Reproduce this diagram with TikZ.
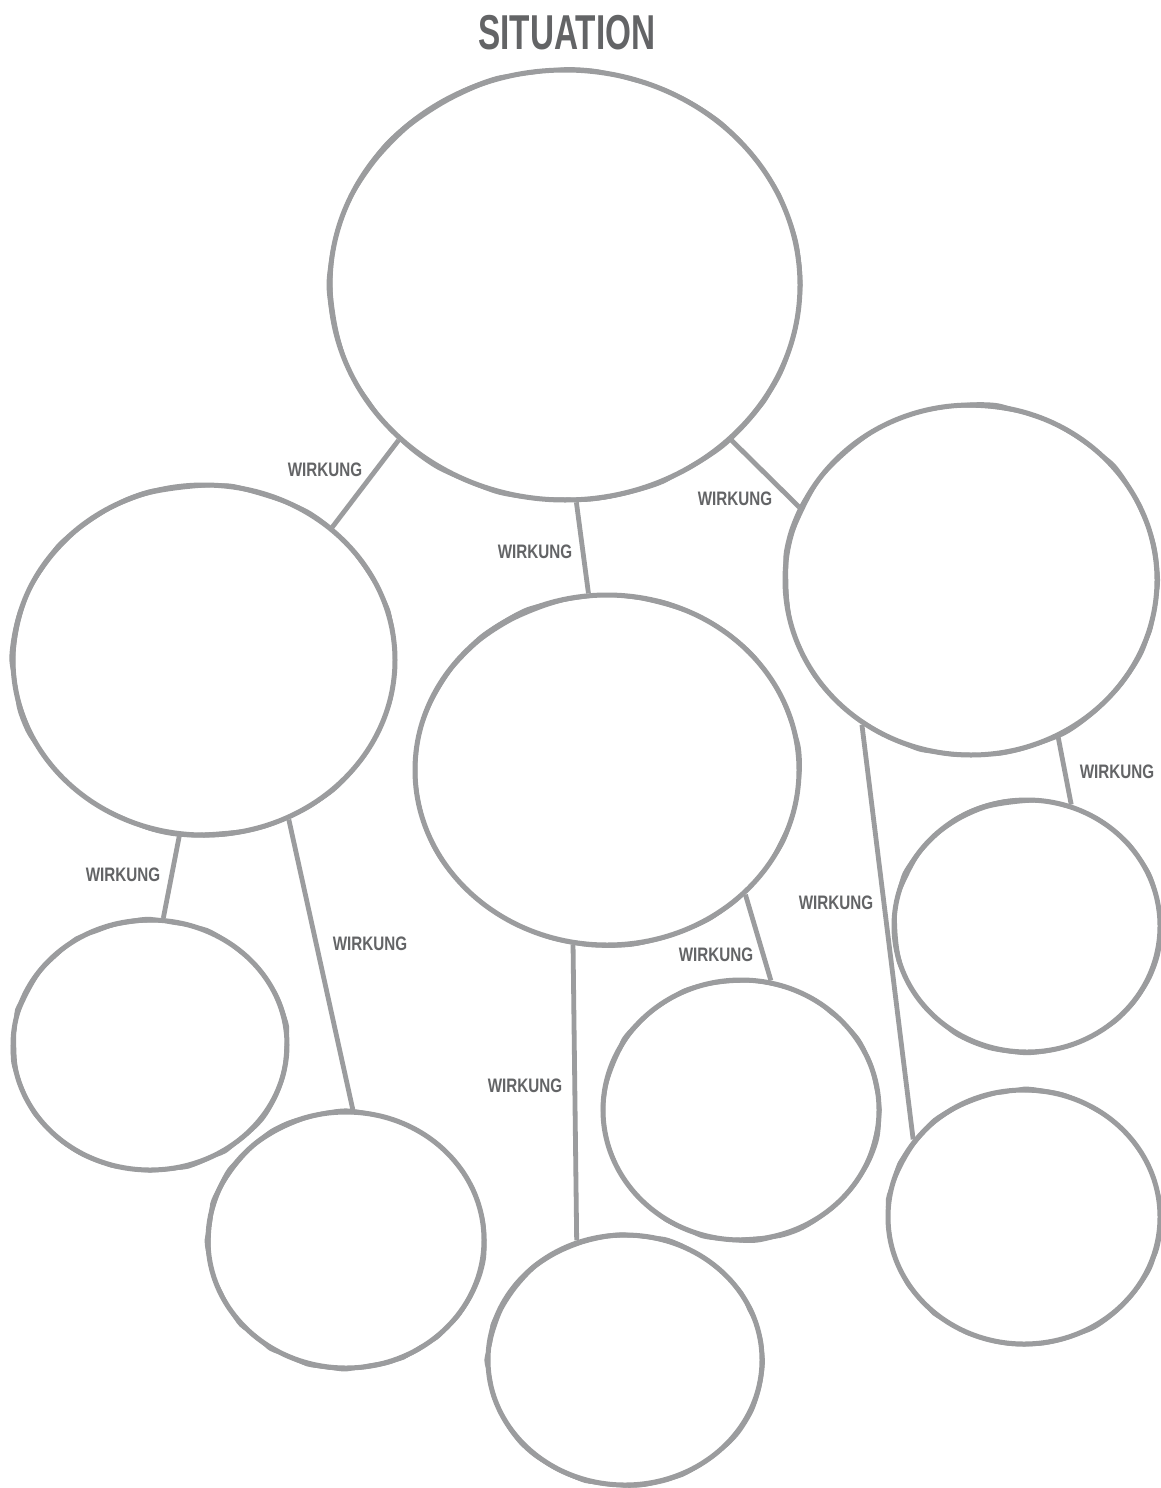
\documentclass[tikz,border=0pt]{standalone}
\usepackage{fontspec}
\setmainfont{Liberation Sans}
\newfontfamily\titlefont{Liberation Sans Bold}[FakeStretch=0.68]
\newfontfamily\labelfont{Liberation Sans Bold}[FakeStretch=0.78]
\usetikzlibrary{shapes.geometric}
\definecolor{linegray}{HTML}{9B9C9E}
\definecolor{textgray}{HTML}{636466}
\tikzset{
  blob/.style={ellipse, draw=linegray, line width=5pt, inner sep=0pt, fill=white},
  wob/.style={draw=linegray, line width=2.8pt},
  conn/.style={draw=linegray, line width=4.8pt},
  lbl/.style={text=textgray, font=\labelfont\fontsize{19.5}{19.5}\selectfont, inner sep=0pt},
  ttl/.style={text=textgray, font=\titlefont\fontsize{49}{49}\selectfont, inner sep=0pt}
}
% rough hand-drawn outline round a named ellipse node: #1 node, #2 rx, #3 ry
\newcommand\roughrim[3]{%
  \draw[wob, shift={(#1.center)}] plot[smooth cycle, samples=44, domain=0:351.8]
    ({(#2+0.4+1.9*rand)*cos(\x)},{(#3+0.4+1.9*rand)*sin(\x)});
  \draw[wob, line width=2pt, shift={(#1.center)}, xshift=1.1pt, yshift=-1.2pt]
    plot[smooth cycle, samples=30, domain=0:348] ({(#2+1.2*rand)*cos(\x)},{(#3+1.2*rand)*sin(\x)});
}
\begin{document}
\begin{tikzpicture}[x=1pt,y=1pt]
\pgfmathsetseed{11}
\useasboundingbox (0,-1488) rectangle (1160,0);
\fill[white] (0,-1488) rectangle (1160,0);

\node[ttl] (title) at (567,-33) {SITUATION};

% circles
\node[blob, minimum width=470pt, minimum height=430pt] (T)  at (565,-285) {};
\node[blob, minimum width=382pt, minimum height=350pt] (L)  at (204,-660) {};
\node[blob, minimum width=384pt, minimum height=350pt] (M)  at (607,-770) {};
\node[blob, minimum width=372pt, minimum height=350pt] (R)  at (971,-580) {};
\node[blob, minimum width=274pt, minimum height=250pt] (BL) at (150,-1045) {};
\node[blob, minimum width=276pt, minimum height=256pt] (LL) at (346,-1240) {};
\node[blob, minimum width=274pt, minimum height=250pt] (B)  at (625,-1360) {};
\node[blob, minimum width=276pt, minimum height=260pt] (MR) at (741,-1110) {};
\node[blob, minimum width=266pt, minimum height=252pt] (RU) at (1027,-926) {};
\node[blob, minimum width=272pt, minimum height=254pt] (RL) at (1024,-1217) {};

\roughrim{T}{235}{215}
\roughrim{L}{191}{175}
\roughrim{M}{192}{175}
\roughrim{R}{186}{175}
\roughrim{BL}{137}{125}
\roughrim{LL}{138}{128}
\roughrim{B}{137}{125}
\roughrim{MR}{138}{130}
\roughrim{RU}{133}{126}
\roughrim{RL}{136}{127}

% connectors
\draw[conn] (T.223.4) -- (L.46.7);
\draw[conn] (T.273) -- (M.96);
\draw[conn] (T.317.4) -- (R.157);
\draw[conn] (L.262.4) -- (BL.84);
\draw[conn] (L.298.8) -- (LL.87.3);
\draw[conn] (M.259.5) -- (B.112.3);
\draw[conn] (M.318.4) -- (MR.77);
\draw[conn] (R.299.3) -- (RU.70.4);
\draw[conn] (R.233.1) -- (RL.145.5);

% labels
\node[lbl] (w1) at (325,-470) {WIRKUNG};
\node[lbl] (w2) at (535,-552) {WIRKUNG};
\node[lbl] (w3) at (735,-499) {WIRKUNG};
\node[lbl] (w4) at (123,-875) {WIRKUNG};
\node[lbl] (w5) at (370,-944) {WIRKUNG};
\node[lbl] (w6) at (525,-1086) {WIRKUNG};
\node[lbl] (w7) at (716,-955) {WIRKUNG};
\node[lbl] (w8) at (836,-903) {WIRKUNG};
\node[lbl] (w9) at (1117,-772) {WIRKUNG};
\end{tikzpicture}
\end{document}
